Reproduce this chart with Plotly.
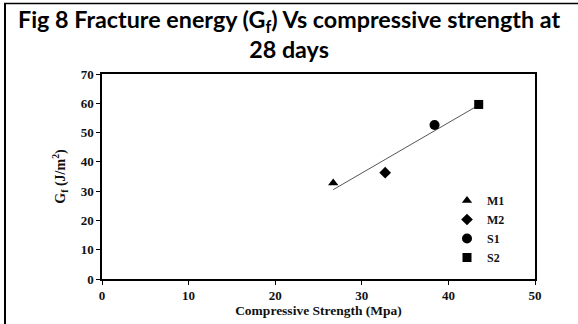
import numpy as np
import plotly.graph_objects as go

# Data
names = ["M1", "M2", "S1", "S2"]
strength = [26.7, 32.7, 38.4, 43.5]      # Compressive Strength (Mpa)
gf = [32.8, 36.3, 52.6, 59.6]            # Fracture energy (J/m^2)
symbols = ["triangle-up", "diamond", "circle", "square"]
sizes = [9, 9, 10, 9]
x_ticks = [0, 10, 20, 30, 40, 50]
y_ticks = [0, 10, 20, 30, 40, 50, 60, 70]

fig = go.Figure()

# Linear trendline fitted to data
slope, intercept = np.polyfit(strength, gf, 1)
xs = [min(strength), max(strength)]
fig.add_trace(go.Scatter(
    x=xs, y=[slope * v + intercept for v in xs], mode="lines",
    line=dict(color="#555555", width=1), showlegend=False, hoverinfo="skip"))

for n, xv, yv, s, sz in zip(names, strength, gf, symbols, sizes):
    fig.add_trace(go.Scatter(
        x=[xv], y=[yv], mode="markers", name=n,
        marker=dict(symbol=s, size=sz, color="black")))

L, R, T, B = 102, 43, 74, 45
W, H = 578, 324
pw, ph = W - L - R, H - T - B
px = lambda p: (p - L) / pw
py = lambda p: (H - B - p) / ph

tickfont = dict(family="Liberation Serif", size=13, color="#111111", weight="bold")
fig.update_layout(
    width=W, height=H,
    margin=dict(l=L, r=R, t=T, b=B),
    paper_bgcolor="white", plot_bgcolor="white",
    font=dict(family="Liberation Serif", color="black"),
    xaxis=dict(range=[0, 50], tickvals=x_ticks, showline=True, mirror=True,
               linecolor="black", linewidth=1.5, ticks="outside", ticklen=4,
               tickcolor="black", showgrid=False, zeroline=False,
               tickfont=tickfont,
               title=dict(text="Compressive Strength (Mpa)", standoff=0,
                          font=dict(family="Liberation Serif", size=13.5,
                                    color="#111111", weight="bold"))),
    yaxis=dict(range=[0, 70], tickvals=y_ticks, showline=True, mirror=True,
               linecolor="black", linewidth=1.5, ticks="outside", ticklen=4,
               tickcolor="black", showgrid=False, zeroline=False,
               tickfont=tickfont,
               title=dict(text="G<sub>f</sub> (J/m<sup>2</sup>)", standoff=12,
                          font=dict(family="Liberation Serif", size=14,
                                    color="#111111", weight="bold"))),
    legend=dict(x=px(447), y=py(186), xanchor="left", yanchor="top",
                bgcolor="rgba(0,0,0,0)", tracegroupgap=0,
                font=dict(family="Liberation Serif", size=12, color="#111111",
                          weight="bold"),
                itemwidth=30),
    showlegend=True,
)

# Title
fig.add_annotation(
    text="Fig 8 Fracture energy (G<sub>f</sub>) Vs compressive strength at<br>28 days",
    xref="paper", yref="paper", x=px(289), y=py(3), xanchor="center", yanchor="top",
    showarrow=False, align="center",
    font=dict(family="Lato", size=23.3, color="black", weight="bold"))

# Frame lines (left and top)
fig.add_shape(type="line", xref="paper", yref="paper",
              x0=px(5), x1=px(5), y0=py(3), y1=py(330),
              line=dict(color="black", width=2))
fig.add_shape(type="line", xref="paper", yref="paper",
              x0=px(4), x1=px(580), y0=py(3.5), y1=py(3.5),
              line=dict(color="black", width=1.5))

fig.write_html("out.html",
               config={"displayModeBar": False},
               post_script="document.body.style.margin='0px';"
                           "document.body.style.padding='0px';")
